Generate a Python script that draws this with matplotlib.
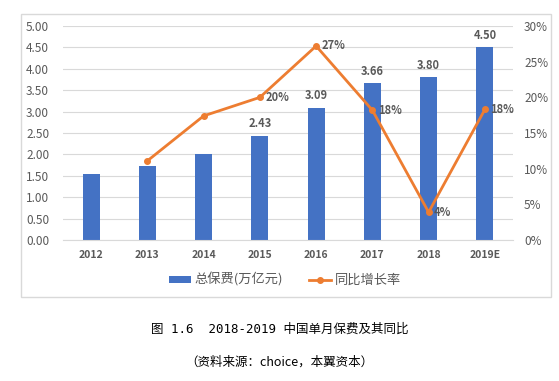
import matplotlib
matplotlib.use('Agg')
import matplotlib.pyplot as plt
from matplotlib.patches import Rectangle
from matplotlib.ticker import FuncFormatter

plt.rcParams['font.family'] = ['Noto Sans CJK SC', 'DejaVu Sans']

years = ['2012', '2013', '2014', '2015', '2016', '2017', '2018', '2019E']
premium = [1.55, 1.72, 2.02, 2.43, 3.09, 3.66, 3.80, 4.50]
growth = [None, 11.1, 17.4, 20.0, 27.2, 18.2, 3.9, 18.3]
growth_labels = [None, None, None, '20%', '27%', '18%', '4%', '18%']
premium_labels = [None, None, None, '2.43', '3.09', '3.66', '3.80', '4.50']

bar_color = '#4472C4'
line_color = '#ED7D31'
text_color = '#595959'

fig = plt.figure(figsize=(5.59, 3.81), dpi=100)
ax = fig.add_axes([0.1127, 0.370, 0.805, 0.5617])

x = list(range(len(years)))
ax.bar(x, premium, width=0.3, color=bar_color, label='总保费(万亿元)', zorder=2)
ax.set_ylim(0, 5)
ax.set_xlim(-0.5, len(years) - 0.5)
ax.set_yticks([i * 0.5 for i in range(11)])
ax.yaxis.set_major_formatter(FuncFormatter(lambda v, p: f'{v:.2f}'))
ax.set_xticks(x)
ax.set_xticklabels(years, fontsize=7.5, color=text_color, fontweight='bold')
ax.tick_params(axis='y', labelsize=8.5, colors=text_color, length=0, pad=10)
ax.tick_params(axis='x', length=0, pad=7)
ax.grid(axis='y', color='#D9D9D9', linewidth=0.8, zorder=0)
for s in ax.spines.values():
    s.set_visible(False)
ax.spines['bottom'].set_visible(True)
ax.spines['bottom'].set_color('#D9D9D9')

for xi, v, lab in zip(x, premium, premium_labels):
    if lab:
        ax.annotate(lab, (xi, v), xytext=(0, 4), textcoords='offset points',
                    ha='center', va='bottom', fontsize=8, fontweight='semibold', color=text_color)

ax2 = ax.twinx()
gx = [xi for xi, g in zip(x, growth) if g is not None]
gy = [g for g in growth if g is not None]
ax2.plot(gx, gy, color=line_color, linewidth=2, marker='o', markersize=4, label='同比增长率', zorder=3)
ax2.set_ylim(0, 30)
ax2.set_yticks(range(0, 31, 5))
ax2.yaxis.set_major_formatter(FuncFormatter(lambda v, p: f'{v:.0f}%'))
ax2.tick_params(axis='y', labelsize=8.5, colors=text_color, length=0, pad=8)
for s in ax2.spines.values():
    s.set_visible(False)

for xi, g, lab in zip(x, growth, growth_labels):
    if lab:
        ax2.annotate(lab, (xi, g), xytext=(4, 0), textcoords='offset points',
                     ha='left', va='center', fontsize=8, fontweight='semibold', color=text_color)

h1, l1 = ax.get_legend_handles_labels()
h2, l2 = ax2.get_legend_handles_labels()
fig.legend(h1 + h2, l1 + l2, loc='center', bbox_to_anchor=(0.51, 1 - 280 / 381), ncol=2,
           frameon=False, fontsize=9.5, labelcolor=text_color, handlelength=1.6,
           handletextpad=0.3, columnspacing=2.0, handleheight=0.5)

# chart border
fig.patches.append(Rectangle((21 / 559, 1 - 297 / 381), 530 / 559, 283 / 381,
                             transform=fig.transFigure, fill=False, edgecolor='#D9D9D9', linewidth=1))

mono = ['DejaVu Sans Mono', 'Noto Sans CJK SC']
fig.text(0.5, 1 - 329 / 381, '图 1.6  2018-2019 中国单月保费及其同比', ha='center', va='center',
         fontsize=9, color='black', family=mono)
fig.text(0.5, 1 - 362 / 381, '（资料来源：choice，本翼资本）', ha='center', va='center',
         fontsize=9, color='black', family=['Noto Sans CJK SC'])

fig.savefig('out.png', dpi=100)
